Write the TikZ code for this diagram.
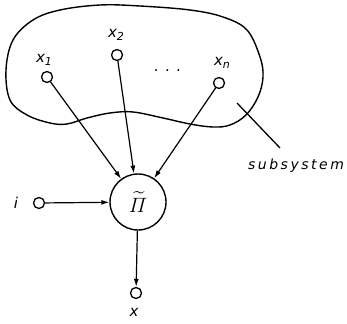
\documentclass[tikz,border=0pt]{standalone}
\usepackage{amsmath}
\usepackage{fontspec}
\setsansfont{DejaVu Sans}
\usetikzlibrary{arrows.meta}
\begin{document}
\begin{tikzpicture}[x=1pt,y=-1pt,
  port/.style={circle,draw,fill=white,line width=1.3pt,minimum size=11pt,inner sep=0pt},
  lbl/.style={font=\sffamily\itshape\fontsize{15}{15}\selectfont,inner sep=0pt},
  conn/.style={line width=1.2pt,-{Latex[length=8pt,width=5pt]}}]
\useasboundingbox (0,0) rectangle (347,323);
% subsystem outline
\draw[line width=1.4pt] plot[smooth cycle,tension=0.6] coordinates {
 (6,70) (13,40) (33,20) (60,10) (100,5) (140,6) (190,10) (223,17) (247,30)
 (260,57) (263,77) (258,97) (246,115) (230,125) (213,127) (190,124) (163,118)
 (133,112) (110,113) (87,118) (67,124) (50,123) (27,115) (10,100)};
\node[circle,draw,line width=1.4pt,minimum size=56pt,inner sep=0pt] (pi) at (138,202) {\fontsize{20}{20}\selectfont$\widetilde{\varPi}$};
\node[port] (x1) at (47,77) {};
\node[port] (x2) at (117,55) {};
\node[port] (xn) at (219,83) {};
\node[port] (i) at (39,203) {};
\node[port] (x) at (136,293) {};
\node[lbl] (lx1) at (44,60) {x\raisebox{-3pt}{\fontsize{11}{11}\selectfont 1}};
\node[lbl] (lx2) at (116,35) {x\raisebox{-3pt}{\fontsize{11}{11}\selectfont 2}};
\node[lbl] (lxn) at (222,63) {x\raisebox{-3pt}{\fontsize{11}{11}\selectfont n}};
\node[lbl] (dots) at (168,71) {. . .};
\node[lbl] (li) at (16,203) {i};
\node[lbl] (lx) at (134,312) {x};
\node[lbl,font=\sffamily\itshape\fontsize{14}{14}\selectfont\addfontfeature{LetterSpace=18}] (sub) at (296,166) {subsystem};
\coordinate (la) at (237,103);
\coordinate (lb) at (280,148);
\draw[line width=1.3pt] (la) -- (lb);
\draw[conn] (x1) -- (pi);
\draw[conn] (x2) -- (pi);
\draw[conn] (xn) -- (pi);
\draw[conn] (i) -- (pi);
\draw[conn] (pi) -- (x);
\end{tikzpicture}
\end{document}
